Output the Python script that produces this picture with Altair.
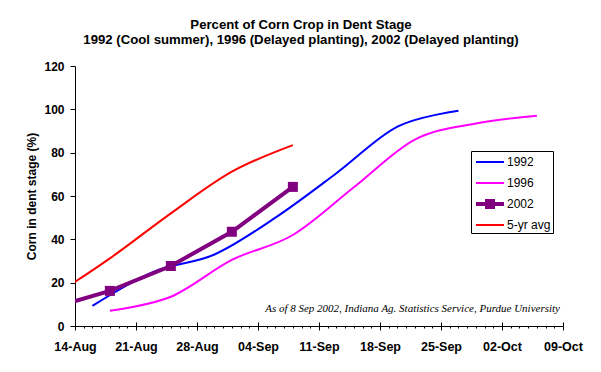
import altair as alt
import pandas as pd

# ---------------- text ----------------
title_lines = [
    "Percent of Corn Crop in Dent Stage",
    "1992 (Cool summer), 1996 (Delayed planting), 2002 (Delayed planting)",
]
y_title = "Corn in dent stage (%)"
note = "As of 8 Sep 2002, Indiana Ag. Statistics Service, Purdue University"

# ---------------- series ----------------
series_names = ["1992", "1996", "2002", "5-yr avg"]
series_colors = ["#0000FF", "#FF00FF", "#800080", "#FF0000"]

# calendar dates (month-day), aligned on the 2002 calendar
dates_1992 = ["08-16", "08-23", "08-30", "09-06", "09-13", "09-20", "09-27"]
pct_1992 = [9.3, 25.0, 33.0, 50.0, 70.5, 92.0, 99.3]

dates_1996 = ["08-18", "08-25", "09-01", "09-08", "09-15", "09-22", "09-29", "10-06"]
pct_1996 = [7.0, 13.5, 30.5, 42.0, 64.0, 86.0, 93.5, 97.0]

dates_2002 = ["08-11", "08-18", "08-25", "09-01", "09-08"]
pct_2002 = [8.0, 16.2, 27.7, 43.5, 64.2]

dates_avg = ["08-11", "08-18", "08-25", "09-01", "09-08"]
pct_avg = [12.5, 31.2, 52.0, 71.2, 83.5]

# ---------------- axes ----------------
x_start = "2002-08-14"
x_end = "2002-10-09"
x_major_ticks = ["2002-08-14", "2002-08-21", "2002-08-28", "2002-09-04", "2002-09-11",
                 "2002-09-18", "2002-09-25", "2002-10-02", "2002-10-09"]
y_ticks = [0, 20, 40, 60, 80, 100, 120]

color_of = dict(zip(series_names, series_colors))


def frame(name, days, vals):
    return pd.DataFrame({"series": name, "color": color_of[name],
                         "date": ["2002-" + d for d in days], "pct": vals})


def dt(s):
    t = pd.Timestamp(s)
    return alt.DateTime(year=t.year, month=t.month, date=t.day, utc=True)


smooth = pd.concat([
    frame("1992", dates_1992, pct_1992),
    frame("1996", dates_1996, pct_1996),
    frame("5-yr avg", dates_avg, pct_avg),
], ignore_index=True)
d2002 = frame("2002", dates_2002, pct_2002)
legend_rows = pd.DataFrame({"series": series_names})

t0 = int(pd.Timestamp(x_start, tz="UTC").value // 10**6)
WEEK = 7 * 24 * 3600 * 1000
is_major = f"((+datum.value) - {t0}) % {WEEK} == 0"

FONT = "Liberation Sans"
x_scale = alt.Scale(type="utc", domain=[dt(x_start), dt(x_end)], nice=False)

x_main = alt.X(
    "date:T", scale=x_scale,
    axis=alt.Axis(
        title=None, grid=False,
        tickCount={"interval": "day", "step": 1},
        labelExpr=f"{is_major} ? utcFormat(datum.value, '%d-%b') : ''",
        tickSize={"condition": {"test": is_major, "value": 4}, "value": 2},
        tickColor="black", domainColor="black",
        labelFont=FONT, labelFontSize=12.5, labelFontWeight="bold", labelColor="black",
        labelPadding=10, labelOverlap=False, labelFlush=False, labelBound=False,
    ),
)
x_none = alt.X("date:T", scale=x_scale, axis=None)
x_top = alt.X(
    "date:T", scale=x_scale,
    axis=alt.Axis(orient="top", offset=-260, values=[dt(s) for s in x_major_ticks],
                  labels=False, domain=False, grid=False, title=None,
                  tickSize=4, tickColor="black"),
)

y_enc = alt.Y(
    "pct:Q", scale=alt.Scale(domain=[0, 120], nice=False),
    axis=alt.Axis(
        values=y_ticks, grid=False, title=y_title,
        titleFont=FONT, titleFontSize=12, titleFontWeight="bold", titleColor="black",
        titleX=-44, titleY=130, titleBaseline="middle",
        labelFont=FONT, labelFontSize=12, labelFontWeight="bold", labelColor="black",
        labelPadding=6, tickSize=5, tickColor="black", domainColor="black",
    ),
)

stroke_enc = alt.Stroke("color:N", scale=None)

smooth_lines = alt.Chart(smooth).mark_line(interpolate="cardinal", strokeWidth=2, clip=True).encode(
    x=x_main, y=y_enc, stroke=stroke_enc, detail="series:N"
)
line2002 = alt.Chart(d2002).mark_line(strokeWidth=4, clip=True).encode(
    x=x_none, y=y_enc, stroke=stroke_enc
)
squares2002 = alt.Chart(d2002).mark_square(size=100, opacity=1, clip=True).encode(
    x=x_top, y=y_enc, fill=alt.Fill("color:N", scale=None)
)

# legend symbols (unit = 9px)
thin = "M-0.667,-0.111H2.444V0.111H-0.667Z"
thick_sq = "M-0.667,-0.222H2.444V0.222H-0.667Z M0.333,-0.556H1.444V0.556H0.333Z"
legend_shapes = [thin, thin, thick_sq, thin]
leg = alt.Legend(
    title=None, orient="none", legendX=396, legendY=85, padding=2,
    strokeColor="black", fillColor="white", cornerRadius=0,
    labelFont=FONT, labelFontSize=12, labelColor="black", labelOffset=16,
    rowPadding=6, symbolSize=324, symbolStrokeWidth=0,
)
# legend-only layer: its points sit outside the plot and are clipped away
legend_layer = alt.Chart(legend_rows).mark_point(filled=True, opacity=1, size=324, clip=True).encode(
    x=alt.value(-80), y=alt.value(-80),
    fill=alt.Fill("series:N", scale=alt.Scale(domain=series_names, range=series_colors), legend=leg),
    shape=alt.Shape("series:N", scale=alt.Scale(domain=series_names, range=legend_shapes), legend=leg),
)

note_layer = alt.Chart(pd.DataFrame({"note": [note]})).mark_text(
    align="right", baseline="alphabetic", font="Liberation Serif", fontStyle="italic",
    fontSize=11, color="black",
).encode(x=alt.value(485), y=alt.value(246), text="note:N")

chart = alt.layer(smooth_lines, line2002, squares2002, legend_layer, note_layer).resolve_axis(
    x="independent"
).properties(
    width=488, height=260,
    autosize=alt.AutoSizeParams(type="none"),
    padding={"left": 67, "top": 58, "right": 30, "bottom": 38},
    title=alt.TitleParams(
        text=title_lines, font=FONT, fontSize=13.2, fontWeight="bold", color="black",
        anchor="middle", dx=-18, offset=13, lineHeight=15,
    ),
    background="white",
).configure_view(stroke=None)

chart.save("out.html", embed_options={"renderer": "svg", "actions": False})
